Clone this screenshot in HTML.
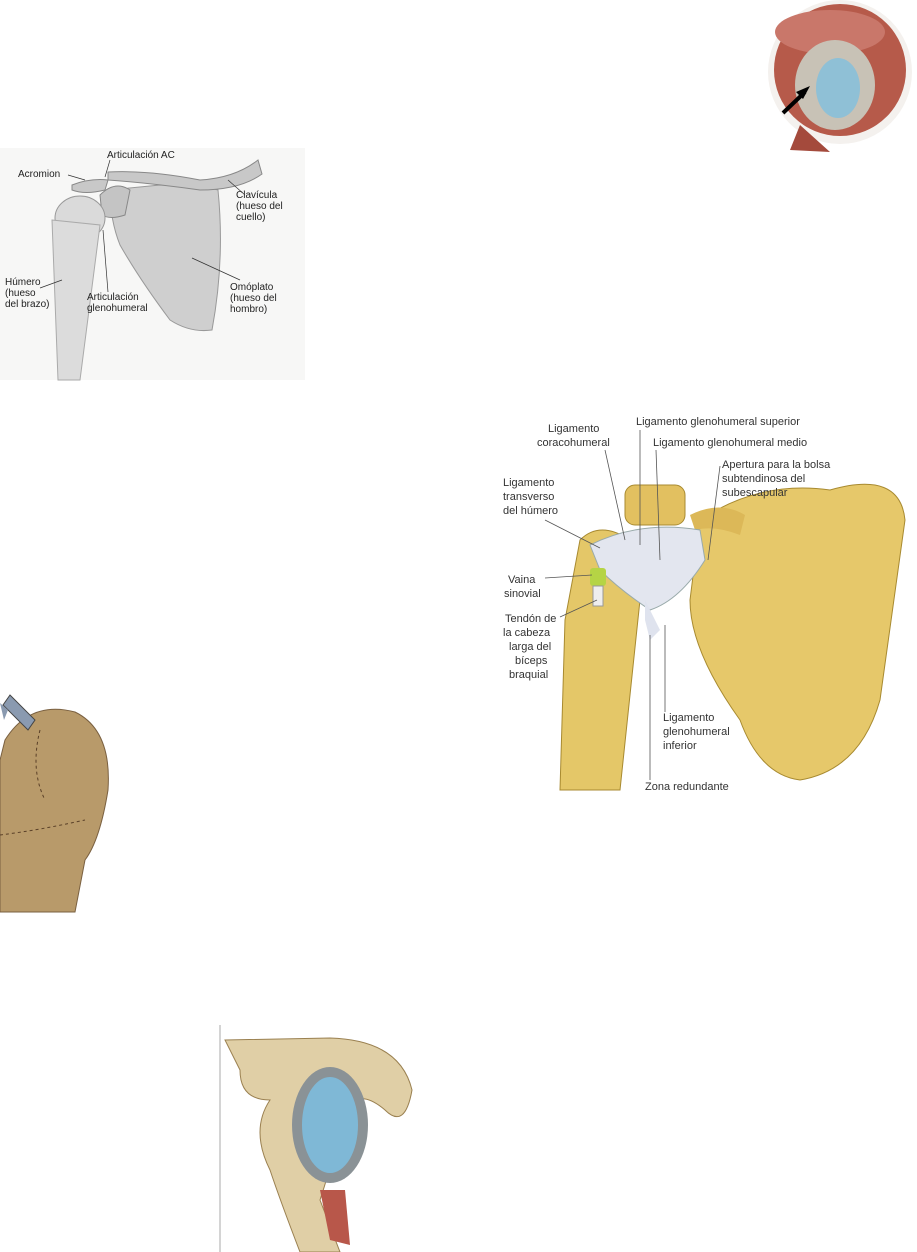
<!DOCTYPE html>
<html><head><meta charset="utf-8"><style>
body{margin:0;width:917px;height:1252px;background:#fff;overflow:hidden;position:relative;font-family:"Liberation Sans",sans-serif}
svg{position:absolute;left:0;top:0}
</style></head><body>
<svg width="917" height="1252" viewBox="0 0 917 1252">
<!-- top right image -->
<g>
<ellipse cx="840" cy="72" rx="72" ry="72" fill="#f4f1ee"/>
<ellipse cx="840" cy="70" rx="66" ry="66" fill="#b65a4a"/>
<ellipse cx="830" cy="32" rx="55" ry="22" fill="#c9776a"/>
<ellipse cx="835" cy="85" rx="40" ry="45" fill="#c8c2b6"/>
<ellipse cx="838" cy="88" rx="22" ry="30" fill="#8fc0d6"/>
<path d="M800 125 L790 150 L830 152 Z" fill="#a44a3c"/>
<line x1="783" y1="113" x2="805" y2="92" stroke="#000" stroke-width="4"/>
<polygon points="810,86 796,92 803,99" fill="#000"/>
</g>
<!-- top-left shoulder -->
<g>
<rect x="0" y="148" width="305" height="232" fill="#f7f7f6"/>
<path d="M110 190 L160 185 Q200 185 218 190 Q225 260 212 330 Q190 333 170 320 Q140 280 120 245 Q110 220 110 190 Z" fill="#cfcfcf" stroke="#999"/>
<path d="M100 195 Q115 180 130 190 L125 215 Q110 220 102 215 Z" fill="#c4c4c4" stroke="#888"/>
<path d="M108 172 Q150 170 200 180 Q235 178 258 160 L262 174 Q240 190 200 190 Q150 183 108 180 Z" fill="#c8c8c8" stroke="#888"/>
<path d="M72 185 Q90 178 108 180 L105 190 Q85 195 72 190 Z" fill="#c8c8c8" stroke="#888"/>
<ellipse cx="80" cy="218" rx="25" ry="22" fill="#dadada" stroke="#999"/>
<path d="M52 220 L100 225 L80 380 L58 380 Z" fill="#dcdcdc" stroke="#aaa"/>
<g font-size="10" fill="#222">
<text x="107" y="158">Articulación AC</text>
<text x="18" y="177">Acromion</text>
<text x="236" y="198">Clavícula</text><text x="236" y="209">(hueso del</text><text x="236" y="220">cuello)</text>
<text x="5" y="285">Húmero</text><text x="5" y="296">(hueso</text><text x="5" y="307">del brazo)</text>
<text x="87" y="300">Articulación</text><text x="87" y="311">glenohumeral</text>
<text x="230" y="290">Omóplato</text><text x="230" y="301">(hueso del</text><text x="230" y="312">hombro)</text>
</g>
<g stroke="#333" stroke-width="0.7"><line x1="68" y1="175" x2="85" y2="180"/><line x1="110" y1="160" x2="105" y2="177"/>
<line x1="245" y1="195" x2="228" y2="180"/><line x1="240" y1="280" x2="192" y2="258"/><line x1="40" y1="288" x2="62" y2="280"/><line x1="108" y1="292" x2="103" y2="230"/></g>
</g>
<!-- right yellow -->
<g>
<path d="M700 520 Q760 480 830 490 Q900 470 905 520 L880 700 Q860 770 800 780 Q760 775 740 720 Q690 650 690 600 Z" fill="#e6c86a" stroke="#a88a30"/>
<rect x="625" y="485" width="60" height="40" rx="10" fill="#e2c060" stroke="#a88a30"/>
<path d="M690 515 Q720 500 745 515 L740 535 Q715 525 695 530 Z" fill="#dcb858"/>
<path d="M580 540 Q600 520 630 540 L640 600 L620 790 L560 790 L565 620 Z" fill="#e4c768" stroke="#a88a30"/>
<path d="M590 545 Q640 520 700 530 L705 560 Q680 600 650 610 Q620 590 600 570 Z" fill="#e3e6ef" stroke="#9aa"/>
<path d="M645 600 L660 630 L650 640 L645 620 Z" fill="#dfe3ee"/>
<rect x="590" y="568" width="16" height="18" rx="3" fill="#b5d445"/>
<rect x="593" y="586" width="10" height="20" fill="#eee" stroke="#999"/>
<g font-size="11" fill="#333">
<text x="548" y="432">Ligamento</text><text x="537" y="446">coracohumeral</text>
<text x="636" y="425">Ligamento glenohumeral superior</text>
<text x="653" y="446">Ligamento glenohumeral medio</text>
<text x="722" y="468">Apertura para la bolsa</text><text x="722" y="482">subtendinosa del</text><text x="722" y="496">subescapular</text>
<text x="503" y="486">Ligamento</text><text x="503" y="500">transverso</text><text x="503" y="514">del húmero</text>
<text x="508" y="583">Vaina</text><text x="504" y="597">sinovial</text>
<text x="505" y="622">Tendón de</text><text x="503" y="636">la cabeza</text><text x="509" y="650">larga del</text><text x="515" y="664">bíceps</text><text x="509" y="678">braquial</text>
<text x="663" y="721">Ligamento</text><text x="663" y="735">glenohumeral</text><text x="663" y="749">inferior</text>
<text x="645" y="790">Zona redundante</text>
</g>
<g stroke="#555" stroke-width="0.8" fill="none">
<line x1="605" y1="450" x2="625" y2="540"/><line x1="640" y1="430" x2="640" y2="545"/>
<line x1="656" y1="450" x2="660" y2="560"/><line x1="720" y1="466" x2="708" y2="560"/>
<line x1="545" y1="520" x2="600" y2="548"/><line x1="545" y1="578" x2="592" y2="575"/>
<line x1="560" y1="617" x2="597" y2="600"/><line x1="665" y1="712" x2="665" y2="625"/>
<line x1="650" y1="780" x2="650" y2="635"/>
</g>
</g>
<!-- humerus head -->
<g>
<path d="M5 740 Q30 700 75 712 Q112 730 108 790 Q100 840 85 860 L75 912 L0 912 L0 760 Z" fill="#b89a6a" stroke="#7a6040"/>
<path d="M40 730 Q30 770 45 800" stroke="#5a4028" fill="none" stroke-dasharray="3 3"/>
<path d="M0 835 Q40 830 85 820" stroke="#5a4028" fill="none" stroke-dasharray="3 3"/>
<path d="M3 705 L10 695 L35 720 L28 730 Z" fill="#8a9ab0" stroke="#444"/>
<path d="M8 710 L0 703 L4 720 Z" fill="#8a9ab0"/>
</g>
<!-- bottom image -->
<g>
<line x1="220" y1="1025" x2="220" y2="1252" stroke="#aaa"/>
<path d="M225 1040 L330 1038 Q400 1040 412 1090 Q405 1130 385 1110 Q350 1080 340 1130 Q330 1170 320 1200 L340 1252 L300 1252 Q280 1200 270 1170 Q250 1130 270 1100 Q240 1100 240 1070 Z" fill="#e0cfa6" stroke="#9a8050"/>
<ellipse cx="330" cy="1125" rx="38" ry="58" fill="#8a9296"/>
<ellipse cx="330" cy="1125" rx="28" ry="48" fill="#7fb8d6"/>
<path d="M320 1190 L345 1190 L350 1245 L330 1240 Z" fill="#b8574a"/>
</g>
</svg>
</body></html>
